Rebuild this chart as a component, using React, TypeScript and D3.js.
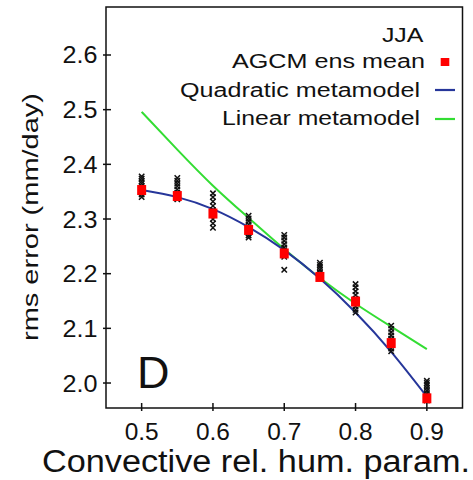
import React from "react";
import * as d3 from "d3";

const params = [0.5, 0.55, 0.6, 0.65, 0.7, 0.75, 0.8, 0.85, 0.9];
const ensMean = [2.353, 2.342, 2.31, 2.28, 2.237, 2.194, 2.149, 2.073, 1.972];
const members = [
  [2.378, 2.374, 2.369, 2.365, 2.36, 2.355, 2.35, 2.345, 2.34],
  [2.375, 2.37, 2.365, 2.36, 2.354, 2.348, 2.343, 2.338, 2.336],
  [2.347, 2.34, 2.332, 2.324, 2.316, 2.308, 2.3, 2.292, 2.284],
  [2.306, 2.301, 2.296, 2.29, 2.285, 2.28, 2.275, 2.27, 2.266],
  [2.271, 2.266, 2.26, 2.254, 2.248, 2.243, 2.237, 2.231, 2.207],
  [2.22, 2.216, 2.212, 2.207, 2.202, 2.198, 2.193],
  [2.181, 2.175, 2.168, 2.161, 2.154, 2.147, 2.14, 2.134, 2.129],
  [2.105, 2.099, 2.093, 2.087, 2.081, 2.075, 2.069, 2.063, 2.058],
  [2.004, 2.0, 1.996, 1.991, 1.986, 1.981, 1.976, 1.972, 1.968],
];
const quadratic = [2.353, 2.34, 2.318, 2.285, 2.243, 2.191, 2.129, 2.057, 1.975];
const linear = [2.496, 2.427, 2.361, 2.302, 2.245, 2.192, 2.145, 2.103, 2.062];
const xTicks = [0.5, 0.6, 0.7, 0.8, 0.9];
const yTicks = [2.0, 2.1, 2.2, 2.3, 2.4, 2.5, 2.6];
const legendLabels = ["JJA", "AGCM ens mean", "Quadratic metamodel", "Linear metamodel"];

const FONT = "'Liberation Sans', Arial, Helvetica, sans-serif";
const BLUE = "#26369a";
const GREEN = "#33dd33";
const RED = "#ff0000";

export default function App() {
  const left = 106, right = 462.5, top = 7, bottom = 408;
  const x = d3.scaleLinear().domain([0.45, 0.95]).range([left, right]);
  const y = d3.scaleLinear().domain([1.9543, 2.6878]).range([bottom, top]);
  const line = d3
    .line<number>()
    .x((_, i) => x(params[i]))
    .y((d) => y(d))
    .curve(d3.curveNatural);
  const cs = 2.7;

  return (
    <svg
      width={473}
      height={480}
      style={{ position: "absolute", left: 0, top: 0, background: "#fff" }}
      fontFamily={FONT}
    >
      <rect x={0} y={0} width={473} height={480} fill="#fff" />
      <path d={line(linear) || ""} fill="none" stroke={GREEN} strokeWidth={2} />
      <path d={line(quadratic) || ""} fill="none" stroke={BLUE} strokeWidth={2} />
      {members.map((arr, i) =>
        arr.map((v, j) => {
          const cx = x(params[i]);
          const cy = y(v);
          return (
            <path
              key={`m${i}-${j}`}
              d={`M${cx - cs},${cy - cs}L${cx + cs},${cy + cs}M${cx - cs},${cy + cs}L${cx + cs},${cy - cs}`}
              stroke="#111"
              strokeWidth={1.5}
              fill="none"
            />
          );
        })
      )}
      {ensMean.map((v, i) => (
        <rect key={`r${i}`} x={x(params[i]) - 4.5} y={y(v) - 5} width={9} height={10} fill={RED} />
      ))}
      <rect x={left} y={top} width={right - left} height={bottom - top} fill="none" stroke="#111" strokeWidth={1.5} />
      {xTicks.map((t) => (
        <g key={`xt${t}`}>
          <line x1={x(t)} x2={x(t)} y1={bottom - 5} y2={bottom + 3} stroke="#111" strokeWidth={1.5} />
          <text
            x={x(t)}
            y={439.5}
            fontSize={23}
            textAnchor="middle"
            textLength={34}
            lengthAdjust="spacingAndGlyphs"
            fill="#111"
          >
            {t.toFixed(1)}
          </text>
        </g>
      ))}
      {yTicks.map((t) => (
        <g key={`yt${t}`}>
          <line x1={left - 3} x2={left + 5} y1={y(t)} y2={y(t)} stroke="#111" strokeWidth={1.5} />
          <text
            x={97.5}
            y={y(t) + 8.5}
            fontSize={23}
            textAnchor="end"
            textLength={35}
            lengthAdjust="spacingAndGlyphs"
            fill="#111"
          >
            {t.toFixed(1)}
          </text>
        </g>
      ))}
      <text
        x={42}
        y={471.5}
        fontSize={31}
        textLength={428}
        lengthAdjust="spacingAndGlyphs"
        fill="#111"
      >
        Convective rel. hum. param.
      </text>
      <text
        transform={`translate(37.5,217) rotate(-90)`}
        x={0}
        y={0}
        fontSize={22}
        textAnchor="middle"
        textLength={248}
        lengthAdjust="spacingAndGlyphs"
        fill="#111"
      >
        rms error (mm/day)
      </text>
      <text x={137} y={388} fontSize={45} fill="#111">
        D
      </text>
      <text x={423.5} y={42.3} fontSize={19.5} textAnchor="end" textLength={41.6} lengthAdjust="spacingAndGlyphs" fill="#111">
        {legendLabels[0]}
      </text>
      <text x={425} y={68.3} fontSize={19.5} textAnchor="end" textLength={193} lengthAdjust="spacingAndGlyphs" fill="#111">
        {legendLabels[1]}
      </text>
      <text x={420} y={97.3} fontSize={19.5} textAnchor="end" textLength={240} lengthAdjust="spacingAndGlyphs" fill="#111">
        {legendLabels[2]}
      </text>
      <text x={420} y={125} fontSize={19.5} textAnchor="end" textLength={198} lengthAdjust="spacingAndGlyphs" fill="#111">
        {legendLabels[3]}
      </text>
      <rect x={440.7} y={58} width={8.6} height={8} fill={RED} />
      <line x1={435} x2={455} y1={90} y2={90} stroke={BLUE} strokeWidth={2.2} />
      <line x1={435} x2={455} y1={119} y2={119} stroke={GREEN} strokeWidth={2.2} />
    </svg>
  );
}
